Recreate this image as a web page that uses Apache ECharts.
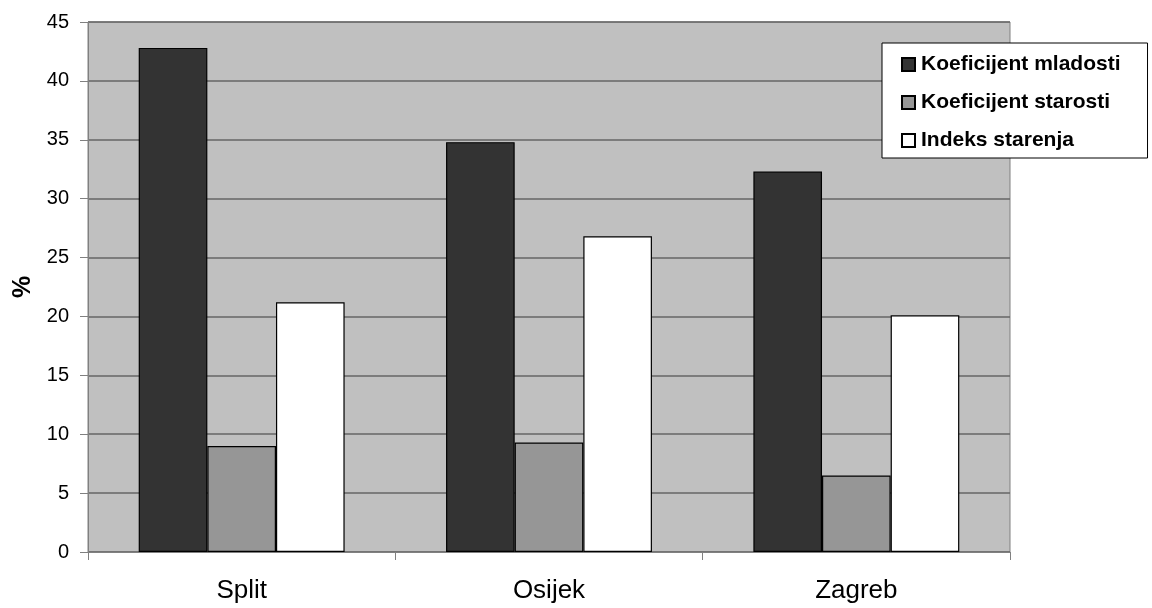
<!DOCTYPE html>
<html>
<head>
<meta charset="utf-8">
<script src="https://cdn.jsdelivr.net/npm/echarts@6/dist/echarts.min.js"></script>
<style>html,body{margin:0;padding:0;background:#fff}#c{width:1152px;height:608px}</style>
</head>
<body>
<div id="c"></div>
<script>
const categories = ['Split', 'Osijek', 'Zagreb'];
const seriesNames = ['Koeficijent mladosti', 'Koeficijent starosti', 'Indeks starenja'];
const mladosti = [42.8, 34.8, 32.3];
const starosti = [9.0, 9.3, 6.5];
const starenja = [21.2, 26.8, 20.1];
const yTicks = { min: 0, max: 45, interval: 5 };

const colors = ['#333333', '#969696', '#ffffff'];
const values = [mladosti, starosti, starenja];
const FONT = '"Liberation Sans", Arial, sans-serif';

const chart = echarts.init(document.getElementById('c'));
chart.setOption({
  animation: false,
  backgroundColor: '#ffffff',
  textStyle: { fontFamily: FONT },
  grid: {
    left: 88, right: 142, top: 22, bottom: 56,
    outerBoundsMode: 'none',
    containLabel: false,
    show: true, backgroundColor: '#c0c0c0', borderColor: '#808080', borderWidth: 1
  },
  legend: {
    orient: 'vertical',
    left: 882, top: 43,
    backgroundColor: '#ffffff',
    borderColor: '#000000',
    borderWidth: 1,
    padding: [11, 27, 7, 19],
    itemGap: 17,
    itemWidth: 13, itemHeight: 13,
    icon: 'rect',
    textStyle: { fontSize: 21, fontWeight: 'bold', color: '#000', fontFamily: FONT, padding: [0, 0, 0, 1] },
    data: seriesNames
  },
  xAxis: {
    type: 'category',
    data: categories,
    boundaryGap: true,
    axisLine: { show: true, lineStyle: { color: '#808080', width: 1 } },
    axisTick: { show: true, alignWithLabel: false, length: 8, lineStyle: { color: '#808080' } },
    axisLabel: { fontSize: 26, color: '#000', margin: 26, fontFamily: FONT },
    splitLine: { show: false }
  },
  yAxis: {
    type: 'value',
    min: yTicks.min, max: yTicks.max, interval: yTicks.interval,
    name: '%',
    nameLocation: 'middle',
    nameGap: 52,
    nameMoveOverlap: false,
    nameRotate: 90,
    nameTextStyle: { fontSize: 25, fontWeight: 'bold', color: '#000', fontFamily: FONT },
    axisLine: { show: true, lineStyle: { color: '#808080', width: 1 } },
    axisTick: { show: true, inside: false, length: 8, lineStyle: { color: '#808080' } },
    axisLabel: { fontSize: 20, color: '#000', margin: 19, fontFamily: FONT },
    splitLine: { show: true, lineStyle: { color: '#666666', width: 1.5 } }
  },
  series: seriesNames.map((n, i) => ({
    name: n,
    type: 'bar',
    data: values[i],
    barGap: '0%',
    barCategoryGap: '33%',
    itemStyle: { color: colors[i], borderColor: '#000000', borderWidth: 1.2 }
  }))
});
</script>
</body>
</html>
